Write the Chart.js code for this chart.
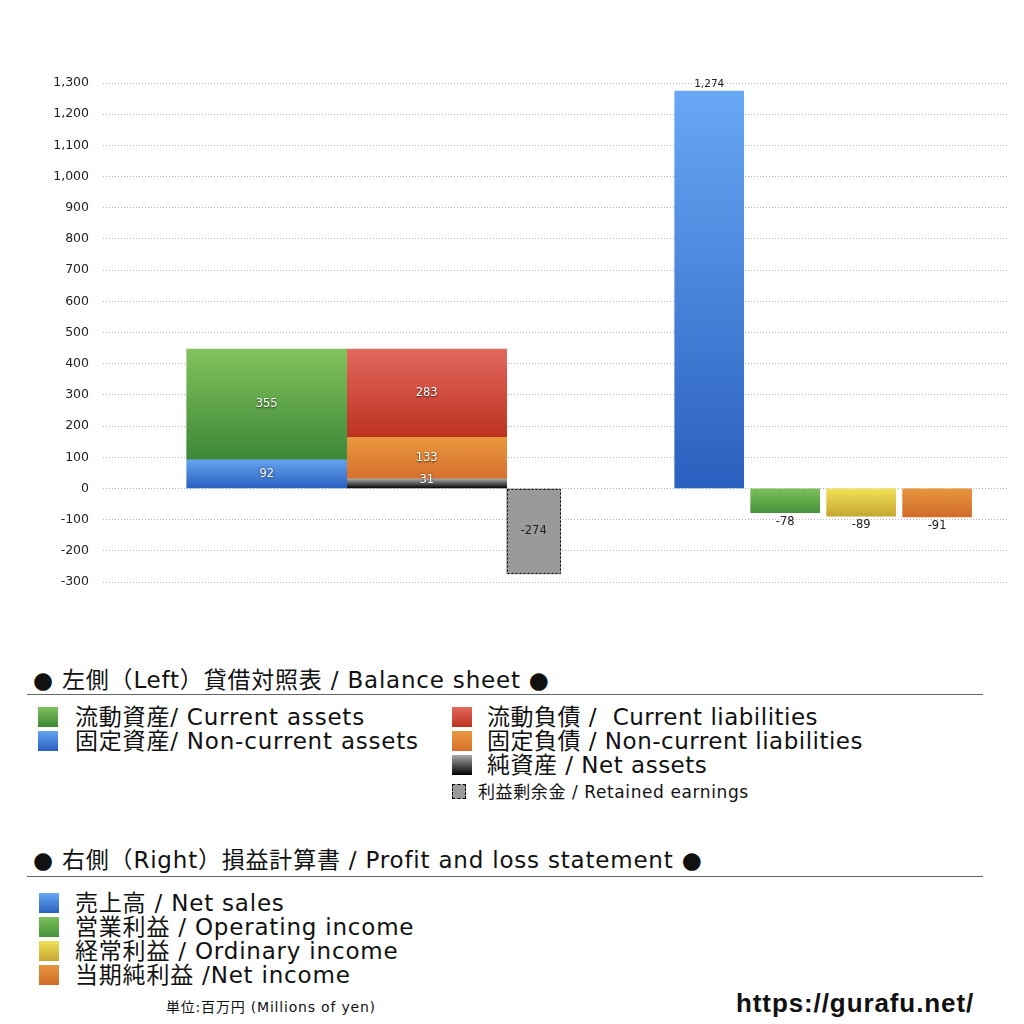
<!DOCTYPE html>
<html>
<head>
<meta charset="utf-8">
<script src="https://cdn.jsdelivr.net/npm/chart.js@4/dist/chart.umd.min.js"></script>
<style>
  html, body { margin:0; padding:0; background:#fff; overflow:hidden; width:1024px; height:1024px; }
  body { position:relative; font-family:"DejaVu Sans","Noto Sans CJK JP",sans-serif; color:#111; }
  #wrap { position:absolute; left:0; top:0; width:1024px; height:640px; }
  .abs { position:absolute; white-space:pre; }
  .title { font-size:23px; line-height:28px; letter-spacing:0.8px; }
  .rule { position:absolute; height:0; border-top:1.5px solid #666; }
  .item { font-size:23px; line-height:24px; letter-spacing:0.8px; }
  .box { position:absolute; width:20px; height:20px; }
  .small { font-size:17px; line-height:20px; letter-spacing:0.6px; }
</style>
</head>
<body>
<div id="wrap"><canvas id="c"></canvas></div>
<div id="legend"></div>
<script>
// ---------- data ----------
const yTickMin = -300, yTickMax = 1300, yTickStep = 100;

const assetLabels = ['流動資産/ Current assets', '固定資産/ Non-current assets'];
const assetValues = [355, 92];

const liabilityLabels = ['流動負債 /  Current liabilities', '固定負債 / Non-current liabilities', '純資産 / Net assets'];
const liabilityValues = [283, 133, 31];

const retainedLabel = '利益剰余金 / Retained earnings';
const retainedValue = -274;

const plLabels = ['売上高 / Net sales', '営業利益 / Operating income', '経常利益 / Ordinary income', '当期純利益 /Net income'];
const plValues = [1274, -78, -89, -91];

const titleBS = '● 左側（Left）貸借対照表 / Balance sheet ●';
const titlePL = '● 右側（Right）損益計算書 / Profit and loss statement ●';
const unitText = '単位:百万円 (Millions of yen)';
const siteText = 'https://gurafu.net/';

// ---------- styles / layout (not data) ----------
const FONT = '"DejaVu Sans", "Noto Sans CJK JP", sans-serif';
const assetColors = [['#82c25c', '#3c8837'], ['#64a3ee', '#2a60c0']];
const liabilityColors = [['#e2685e', '#bd321f'], ['#e8983f', '#d7702c'], ['#aaaaaa', '#000000']];
const retainedColor = '#9a9a9a';
const plColors = [['#68a8f4', '#2a60bf'], ['#7cc05a', '#45923a'], ['#f2e257', '#c6a632'], ['#e6963e', '#d26c2a']];

// slot positions on a hidden linear x scale (0..11.9)
const X_MAX = 11.9;
const slot = { assets: 2.155, liabilities: 4.261, retained: 5.669, pl: [7.98, 8.98, 9.98, 10.98] };
const thick = { bs: 160, retained: 54, pl: 69 };

function gradientBg(c) {
  const ds = c.dataset, chart = c.chart, ys = chart.scales && chart.scales.y;
  if (!chart.chartArea || !ys) return ds._colors[0];
  const top = ys.getPixelForValue(ds._hi), bot = ys.getPixelForValue(ds._lo);
  if (!isFinite(top) || !isFinite(bot) || top === bot) return ds._colors[0];
  const g = chart.ctx.createLinearGradient(0, top, 0, bot);
  g.addColorStop(0, ds._colors[0]);
  g.addColorStop(1, ds._colors[1]);
  return g;
}

// ---------- build datasets ----------
const datasets = [];
function addStack(labels, values, colors, x, thickness) {
  // bottom of the stack is the last item in the arrays
  let base = 0;
  for (let i = values.length - 1; i >= 0; i--) {
    const v = values[i];
    datasets.push({
      label: labels[i], data: [{ x: x, y: v }], barThickness: thickness, grouped: false,
      backgroundColor: gradientBg, borderWidth: 0,
      _lo: base, _hi: base + v, _colors: colors[i], _labelMode: 'inside'
    });
    base += v;
  }
}
addStack(assetLabels, assetValues, assetColors, slot.assets, thick.bs);
addStack(liabilityLabels, liabilityValues, liabilityColors, slot.liabilities, thick.bs);
datasets.push({
  label: retainedLabel, data: [{ x: slot.retained, y: retainedValue }], barThickness: thick.retained, grouped: false,
  backgroundColor: retainedColor, borderWidth: 0,
  _lo: retainedValue, _hi: 0, _colors: [retainedColor, retainedColor], _labelMode: 'insideDark', _dashed: true
});
plValues.forEach((v, i) => {
  datasets.push({
    label: plLabels[i], data: [{ x: slot.pl[i], y: v }], barThickness: thick.pl, grouped: false,
    backgroundColor: gradientBg, borderWidth: 0,
    _lo: Math.min(0, v), _hi: Math.max(0, v), _colors: plColors[i], _labelMode: 'outside'
  });
});

const fmt = v => v.toLocaleString('en-US');

const labelPlugin = {
  id: 'barLabels',
  afterDatasetsDraw(chart) {
    const ctx = chart.ctx;
    chart.data.datasets.forEach((ds, di) => {
      const meta = chart.getDatasetMeta(di);
      meta.data.forEach((el, i) => {
        const v = ds.data[i].y;
        const left = el.x - el.width / 2, top = Math.min(el.y, el.base), h = Math.abs(el.base - el.y);
        if (ds._dashed) {
          ctx.save();
          ctx.strokeStyle = '#000';
          ctx.lineWidth = 1;
          ctx.setLineDash([2, 2]);
          ctx.strokeRect(Math.round(left) + 0.5, Math.round(top) + 0.5, Math.round(el.width) - 1, Math.round(h) - 1);
          ctx.restore();
        }
        ctx.save();
        ctx.font = '11.5px ' + FONT;
        ctx.textAlign = 'center';
        ctx.textBaseline = 'middle';
        let y;
        if (ds._labelMode === 'inside') {
          y = Math.min((el.y + el.base) / 2, el.base - 8);
          ctx.fillStyle = '#ffffff';
          ctx.shadowColor = 'rgba(0,0,0,0.75)';
          ctx.shadowBlur = 2;
          ctx.shadowOffsetX = 0; ctx.shadowOffsetY = 0.5;
        } else if (ds._labelMode === 'insideDark') {
          y = (el.y + el.base) / 2;
          ctx.fillStyle = '#222';
        } else {
          ctx.font = (v >= 0 ? '10.5px ' : '11.5px ') + FONT;
          y = v >= 0 ? el.y - 7 : el.y + 9;
          ctx.fillStyle = '#222';
        }
        ctx.fillText(fmt(v), el.x, y);
        ctx.restore();
      });
    });
  }
};

new Chart(document.getElementById('c'), {
  type: 'bar',
  data: { datasets: datasets },
  options: {
    locale: 'en-US',
    animation: false,
    responsive: true,
    maintainAspectRatio: false,
    layout: { padding: { top: 83, bottom: 58, left: 0, right: 17 } },
    plugins: { legend: { display: false }, tooltip: { enabled: false }, colors: { enabled: false } },
    scales: {
      x: { type: 'linear', min: 0, max: X_MAX, display: false, offset: false, grid: { offset: false } },
      y: {
        stacked: true, min: yTickMin, max: yTickMax,
        afterFit: s => { s.width = 103; },
        border: { display: false, dash: [1, 2] },
        grid: { color: '#b4b4b4', lineWidth: 1, drawTicks: false },
        ticks: { stepSize: yTickStep, padding: 14, color: '#222',
                 font: { size: 12.5, family: FONT } }
      }
    }
  },
  plugins: [labelPlugin]
});

// ---------- legend (HTML) ----------
const L = document.getElementById('legend');
function add(html) { L.insertAdjacentHTML('beforeend', html); }
function grad(c) { return 'linear-gradient(to bottom,' + c[0] + ',' + c[1] + ')'; }
function item(label, colors, xBox, xText, cy, ls) {
  add('<div class="box" style="left:' + xBox + 'px;top:' + (cy - 10) + 'px;background:' + grad(colors) + '"></div>');
  add('<div class="abs item" style="left:' + xText + 'px;top:' + (cy - 12) + 'px' + (ls !== undefined ? ';letter-spacing:' + ls + 'px' : '') + '">' + label + '</div>');
}
add('<div class="abs title" style="left:33px;top:' + (680 - 14) + 'px">' + titleBS + '</div>');
add('<div class="rule" style="left:27px;width:956px;top:694px"></div>');
assetLabels.forEach((l, i) => item(l, assetColors[i], 38, 75, 717 + 24 * i));
liabilityLabels.forEach((l, i) => item(l, liabilityColors[i], 452, 487, 717 + 24 * i, 0.5));
add('<div class="box" style="left:452px;top:784px;width:14px;height:15px;background:' + retainedColor + ';border:1px dashed #000;box-sizing:border-box"></div>');
add('<div class="abs small" style="left:478px;top:' + (792 - 10) + 'px">' + retainedLabel + '</div>');

add('<div class="abs title" style="left:33px;top:' + (860 - 14) + 'px">' + titlePL + '</div>');
add('<div class="rule" style="left:27px;width:956px;top:876px"></div>');
plLabels.forEach((l, i) => item(l, plColors[i], 39, 75, 903 + 24 * i));

add('<div class="abs" style="left:166px;top:997px;font-size:14px;line-height:20px;letter-spacing:0.8px">' + unitText + '</div>');
add('<div class="abs" style="left:736px;top:988px;font-size:26px;line-height:30px;font-weight:bold;font-family:\'Liberation Sans\',Arial,sans-serif;letter-spacing:0.9px">' + siteText + '</div>');
</script>
</body>
</html>
